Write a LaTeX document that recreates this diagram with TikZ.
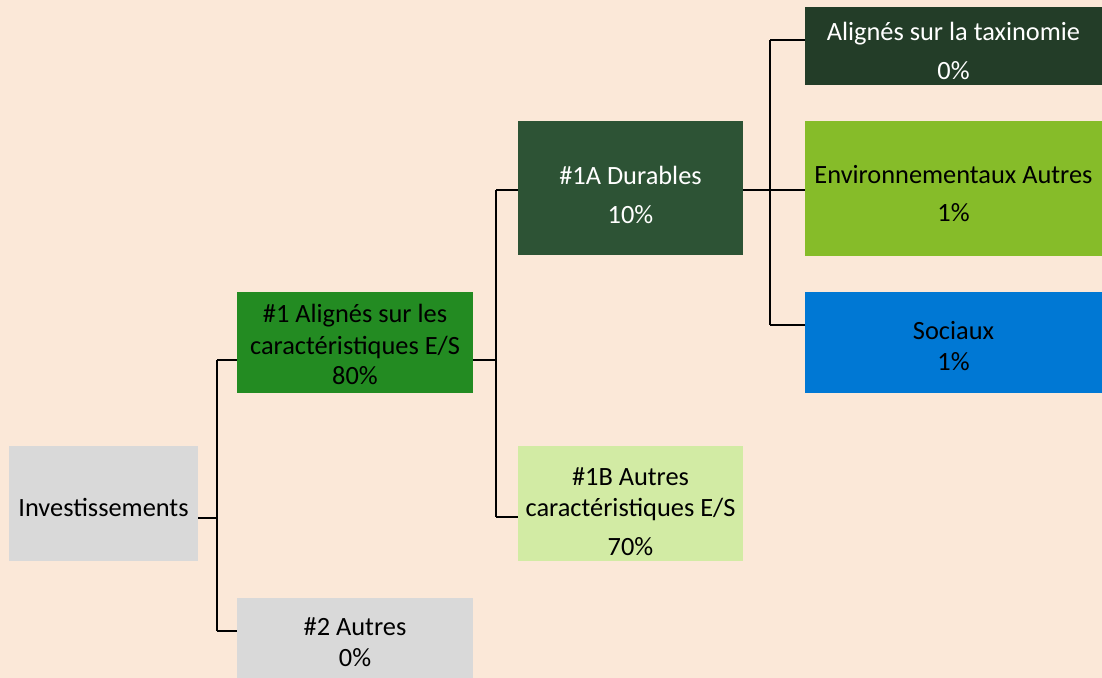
\documentclass[tikz,border=0pt]{standalone}
\usepackage{fontspec}
\setmainfont{Carlito}
\usetikzlibrary{calc}
\definecolor{bgpeach}{RGB}{251,232,216}
\definecolor{boxgrey}{RGB}{217,217,217}
\definecolor{esgreen}{RGB}{35,139,34}
\definecolor{durgreen}{RGB}{45,83,53}
\definecolor{taxgreen}{RGB}{35,61,40}
\definecolor{envgreen}{RGB}{134,188,41}
\definecolor{socblue}{RGB}{0,120,212}
\definecolor{palegreen}{RGB}{210,235,164}

\begin{document}
\begin{tikzpicture}[
  box/.style={rectangle,inner sep=0pt,outer sep=0pt},
  txt/.style={inner sep=0pt,align=center,font=\fontsize{7.5}{8.8}\selectfont},
  stub/.style={line width=0.35pt},
  bar/.style={line width=0.7pt}]
\fill[bgpeach] (0,0) rectangle (11.02,6.78);
\useasboundingbox (0,0) rectangle (11.02,6.78);

% boxes
\node[box,fill=boxgrey,minimum width=1.89cm,minimum height=1.15cm,
  label={[txt,yshift=-0.4mm]center:{Investissements}}] (inv) at (1.035,1.745) {};
\node[box,fill=esgreen,minimum width=2.36cm,minimum height=1.01cm,
  label={[txt,yshift=-0.2mm]center:{\#1 Alignés sur les\\[0.3pt]caractéristiques E/S\\80\%}}] (e1) at (3.55,3.355) {};
\node[box,fill=boxgrey,minimum width=2.36cm,minimum height=0.8cm,
  label={[txt,yshift=-0.4mm]center:{\#2 Autres\\0\%}}] (e2) at (3.55,0.4) {};
\node[box,fill=durgreen,minimum width=2.25cm,minimum height=1.34cm,
  label={[txt,text=white,yshift=-0.7mm]center:{\#1A Durables\\[2.3pt]10\%}}] (d1a) at (6.305,4.90) {};
\node[box,fill=palegreen,minimum width=2.25cm,minimum height=1.15cm,
  label={[txt,yshift=-0.8mm]center:{\#1B Autres\\caractéristiques E/S\\[2.3pt]70\%}}] (d1b) at (6.305,1.745) {};
\node[box,fill=taxgreen,minimum width=2.97cm,minimum height=0.78cm,
  label={[txt,text=white,yshift=-0.5mm]center:{Alignés sur la taxinomie\\[2.1pt]0\%}}] (tax) at (9.535,6.32) {};
\node[box,fill=envgreen,minimum width=2.97cm,minimum height=1.35cm,
  label={[txt,yshift=-0.5mm]center:{Environnementaux Autres\\[2.1pt]1\%}}] (env) at (9.535,4.895) {};
\node[box,fill=socblue,minimum width=2.97cm,minimum height=1.01cm,
  label={[txt,yshift=-0.4mm]center:{Sociaux\\1\%}}] (soc) at (9.535,3.355) {};

% attach points
\coordinate (inv-o) at ([yshift=-1.45mm]inv.east);
\coordinate (e1-i) at ([yshift=-1.75mm]e1.west);
\coordinate (e1-o) at ([yshift=-1.75mm]e1.east);
\coordinate (e2-i) at ([yshift=0.7mm]e2.west);
\coordinate (d1a-i) at ([yshift=-0.2mm]d1a.west);
\coordinate (d1a-o) at ([yshift=-0.2mm]d1a.east);
\coordinate (d1b-i) at ([yshift=-1.35mm]d1b.west);
\coordinate (tax-i) at ([yshift=0.6mm]tax.west);
\coordinate (env-i) at ([yshift=-0.15mm]env.west);
\coordinate (soc-i) at ([yshift=1.75mm]soc.west);

% bus lines
\coordinate (k1) at (2.17,0);
\coordinate (k2) at (4.96,0);
\coordinate (k3) at (7.70,0);

\draw[stub] (inv-o) -- (k1 |- inv-o);
\draw[bar] (k1 |- e1-i) -- (k1 |- e2-i);
\foreach \c in {e1,e2}{
\draw[stub] (k1 |- \c-i) -- (\c-i);
}

\draw[stub] (e1-o) -- (k2 |- e1-o);
\draw[bar] (k2 |- d1a-i) -- (k2 |- d1b-i);
\foreach \c in {d1a,d1b}{
\draw[stub] (k2 |- \c-i) -- (\c-i);
}

\draw[stub] (d1a-o) -- (k3 |- d1a-o);
\draw[bar] (k3 |- tax-i) -- (k3 |- soc-i);
\foreach \c in {tax,env,soc}{
\draw[stub] (k3 |- \c-i) -- (\c-i);
}
\end{tikzpicture}
\end{document}
